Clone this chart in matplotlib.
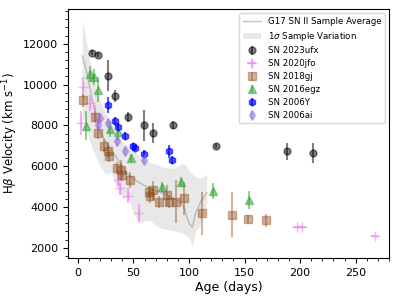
import matplotlib.pyplot as plt
import numpy as np
from matplotlib.ticker import AutoMinorLocator

# G17 sample average and 1-sigma band
g17_age = [4, 8, 12, 16, 20, 25, 30, 35, 40, 45, 50, 55, 60, 65, 70, 75, 80, 85, 90, 95, 100, 103, 106, 110, 116]
g17_avg = [11400, 10600, 9500, 8500, 7700, 7200, 6800, 6400, 6000, 5600, 5400, 5200, 5050, 4900, 4800, 4700, 4600, 4450, 4300, 4050, 3200, 3000, 3700, 4200, 4700]
g17_hi = [13200, 12000, 10900, 9900, 9200, 8600, 8100, 7600, 7200, 7000, 6800, 6500, 6300, 6200, 6100, 6000, 5900, 5900, 6000, 6150, 5800, 5600, 5500, 5400, 5600]
g17_lo = [8500, 7800, 7000, 6500, 6000, 5600, 5700, 5000, 4400, 4500, 3700, 3200, 3300, 3350, 3100, 2950, 2900, 2850, 2800, 2700, 2500, 2050, 2800, 3100, 4200]

# SN 2023ufx
ufx_age = [12.6, 17.7, 26.7, 33.0, 44.8, 59.3, 67.3, 86.0, 124.3, 188.6, 211.4]
ufx_vel = [11550, 11450, 10430, 9420, 8390, 7995, 7620, 8020, 6970, 6720, 6650]
ufx_err = [120, 120, 750, 300, 250, 750, 500, 200, 100, 400, 500]

# SN 2020jfo
jfo_age = [2.7, 4.5, 11.1, 15.0, 36.0, 37.7, 45.3, 55.0, 197, 202, 267]
jfo_vel = [8110, 9880, 9090, 8600, 5330, 4910, 4560, 3700, 3040, 3040, 2600]
jfo_err = [600, 500, 400, 400, 300, 300, 350, 450, 0, 0, 0]
jfo_xerr = [0, 0, 0, 0, 0, 0, 0, 0, 3, 3, 3]

# SN 2018gj
gj_age = [4.5, 15.3, 17.7, 23.7, 27.3, 28.2, 34.8, 38.7, 39.4, 46.8, 64.0, 64.9, 67.8, 73.2, 80.0, 82.2, 88.2, 95.8, 111.4, 139.0, 152.9, 169.0]
gj_vel = [9220, 8410, 7620, 7010, 6720, 6480, 5910, 5790, 5580, 5330, 4730, 4520, 4810, 4230, 4570, 4260, 4260, 4420, 3700, 3620, 3410, 3340]
gj_err = [300, 300, 300, 300, 300, 300, 300, 500, 300, 400, 300, 300, 450, 300, 500, 300, 1050, 800, 1050, 1100, 200, 300]

# SN 2016egz
egz_age = [7.2, 10.8, 14.4, 17.7, 28.5, 36.5, 48.0, 76.0, 93.0, 121.9, 154.0]
egz_vel = [7990, 10530, 10370, 9745, 7820, 7650, 6400, 4975, 5235, 4790, 4353]
egz_err = [700, 400, 400, 600, 400, 400, 200, 250, 250, 400, 450]

# SN 2006Y
y_age = [26.7, 33.0, 35.8, 42.2, 50.0, 51.2, 59.2, 82.0, 85.0]
y_vel = [9000, 8200, 7920, 7460, 6970, 6900, 6580, 6720, 6310]
y_err = [400, 200, 200, 200, 150, 150, 200, 300, 200]

# SN 2006ai
ai_age = [17.8, 20.0, 27.5, 35.5, 42.6, 59.5]
ai_vel = [8030, 8360, 8110, 7210, 6760, 6310]
ai_err = [200, 200, 200, 200, 200, 200]

fig = plt.figure(figsize=(3.99, 2.99), dpi=100)
ax = fig.add_axes([0.170, 0.137, 0.805, 0.833])

ax.plot(g17_age, g17_avg, color='gray', alpha=0.45, lw=1, label='G17 SN II Sample Average')
ax.fill_between(g17_age, g17_lo, g17_hi, color='lightgray', alpha=0.5, lw=0, label=r'1$\sigma$ Sample Variation')

ax.errorbar(ufx_age, ufx_vel, yerr=ufx_err, fmt='o', color='k', alpha=0.5, ms=5, label='SN 2023ufx')
ax.errorbar(jfo_age, jfo_vel, yerr=jfo_err, xerr=jfo_xerr, fmt='+', color='violet', alpha=0.6, ms=7, label='SN 2020jfo')
ax.errorbar(gj_age, gj_vel, yerr=gj_err, fmt='s', color='saddlebrown', alpha=0.4, ms=5.5, label='SN 2018gj')
ax.errorbar(egz_age, egz_vel, yerr=egz_err, fmt='^', color='tab:green', alpha=0.5, ms=6, label='SN 2016egz')
ax.errorbar(y_age, y_vel, yerr=y_err, fmt='h', color='blue', alpha=0.65, ms=5, label='SN 2006Y')
ax.errorbar(ai_age, ai_vel, yerr=ai_err, fmt='d', color='mediumpurple', alpha=0.5, ms=5.5, label='SN 2006ai')

ax.set_xlim(-9, 280)
ax.set_ylim(1500, 13700)
ax.set_xticks([0, 50, 100, 150, 200, 250])
ax.set_yticks([2000, 4000, 6000, 8000, 10000, 12000])
ax.xaxis.set_minor_locator(AutoMinorLocator(5))
ax.yaxis.set_minor_locator(AutoMinorLocator(5))
ax.tick_params(labelsize=8)
ax.set_xlabel('Age (days)', fontsize=9, labelpad=2)
ax.set_ylabel(r'H$\beta$ Velocity (km s$^{-1}$)', fontsize=8.5, labelpad=2)
ax.legend(loc='upper right', fontsize=6.2, handlelength=2.1, labelspacing=0.45)

fig.savefig('out.png', dpi=100)
